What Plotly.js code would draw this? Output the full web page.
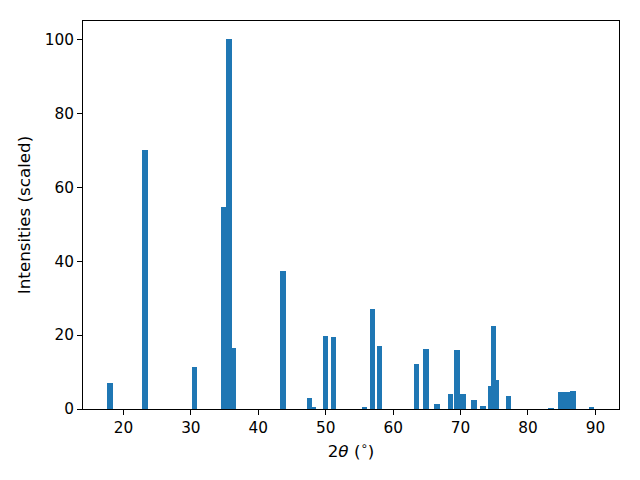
<!DOCTYPE html>
<html><head><meta charset="utf-8">
<script src="https://cdn.plot.ly/plotly-3.0.1.min.js"></script>
<style>html,body{margin:0;padding:0;background:#fff;}#chart{width:640px;height:480px;}</style>
</head><body><div id="chart"></div>
<script>
const twoTheta = [18.0, 23.2, 30.5, 34.84, 35.65, 36.26, 43.64, 47.6, 48.1, 50.0, 51.13, 55.73, 56.9, 58.0, 63.44, 64.85, 66.5, 68.5, 69.46, 70.35, 71.97, 73.3, 74.46, 74.87, 75.3, 77.1, 83.4, 84.9, 85.3, 85.8, 86.7, 89.4];
const intensities = [7.0, 70.2, 11.4, 54.6, 100, 16.5, 37.4, 3.0, 0.5, 19.8, 19.5, 0.5, 27.1, 17.1, 12.2, 16.3, 1.4, 4.1, 16.0, 4.1, 2.4, 0.8, 6.2, 22.5, 7.9, 3.5, 0.3, 4.6, 1.6, 4.6, 4.9, 0.5];
const xTicks = [20, 30, 40, 50, 60, 70, 80, 90];
const yTicks = [0, 20, 40, 60, 80, 100];

const font = {family: 'DejaVu Sans', size: 15.3, color: '#000'};
const tfont = {family: 'DejaVu Sans', size: 16.7, color: '#000'};
Plotly.newPlot('chart', [{
  type: 'bar', x: twoTheta, y: intensities, width: 0.8,
  marker: {color: '#1f77b4', line: {width: 0}}, hoverinfo: 'none'
}], {
  width: 640, height: 480,
  margin: {l: 83, r: 21, t: 21, b: 71},
  paper_bgcolor: '#fff', plot_bgcolor: '#fff',
  font: font, showlegend: false, bargap: 0,
  xaxis: {range: [14.0, 93.5], tickvals: xTicks, ticks: 'outside', ticklen: 5, tickcolor: '#000',
    showline: true, linecolor: '#000', linewidth: 1, mirror: true, showgrid: false, zeroline: false,
    tickfont: font, title: {text: '2<i>θ</i> (<sup>∘</sup>)', font: tfont, standoff: 8}},
  yaxis: {range: [0, 105], tickvals: yTicks, ticks: 'outside', ticklen: 5, tickcolor: '#000',
    showline: true, linecolor: '#000', linewidth: 1, mirror: true, showgrid: false, zeroline: false,
    tickfont: font, title: {text: 'Intensities (scaled)', font: tfont, standoff: 9}}
}, {staticPlot: true});
</script></body></html>
